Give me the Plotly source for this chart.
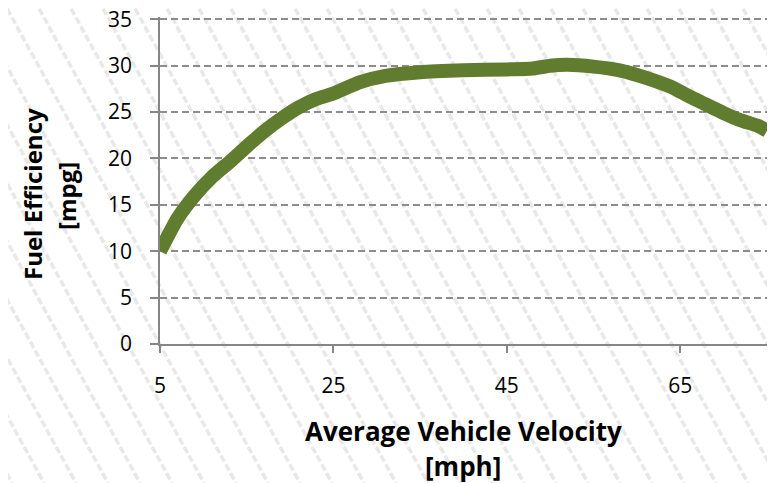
import plotly.graph_objects as go

velocity_mph = [5, 7, 9, 11, 13, 15, 17, 19, 21, 23, 25, 28, 31, 35, 40, 45, 48, 50,
                52, 55, 58, 60, 62, 64, 66, 68, 70, 72, 74, 75]
fuel_eff_mpg = [10.0, 13.5, 16.0, 18.0, 19.6, 21.3, 22.9, 24.3, 25.5, 26.4, 27.0, 28.2,
                28.9, 29.3, 29.5, 29.6, 29.7, 30.0, 30.1, 29.9, 29.5, 29.0, 28.4, 27.7,
                26.7, 25.8, 24.9, 24.1, 23.5, 23.0]
x_ticks = [5, 25, 45, 65]
y_ticks = [0, 5, 10, 15, 20, 25, 30, 35]

OFF = 8  # page body margin offset
W, H = 775 - OFF, 483 - OFF
L, R, T, B = 160 - OFF, 8, 17 - OFF, 139
pw, ph = W - L - R, H - T - B


def px(xw):
    return (xw - OFF - L) / pw


def py(yw):
    return (H - B - (yw - OFF)) / ph


fig = go.Figure()
fig.add_trace(go.Scatter(
    x=velocity_mph, y=fuel_eff_mpg, mode="lines",
    line=dict(color="#607C2E", width=14, shape="spline", smoothing=0.5),
    hoverinfo="skip", showlegend=False,
))

# diagonal hatch background
shapes = []
spacing = 32
slope = 0.55
x0 = -slope * 483 - 20
while x0 < 775 + 20:
    shapes.append(dict(
        type="line", xref="paper", yref="paper", layer="below",
        x0=px(x0), y0=py(0),
        x1=px(x0 + slope * 483), y1=py(483),
        line=dict(color="#E8E8E8", width=3.5, dash="7px,3px"),
    ))
    x0 += spacing

axis_color = "#868686"
fig.update_layout(
    width=W, height=H,
    margin=dict(l=L, r=R, t=T, b=B, autoexpand=False),
    paper_bgcolor="white", plot_bgcolor="rgba(0,0,0,0)",
    font=dict(family="Open Sans", color="black"),
    shapes=shapes,
    xaxis=dict(
        range=[5, 75], tickvals=x_ticks, ticks="outside", ticklen=7,
        tickcolor=axis_color, tickwidth=1.5,
        showline=True, linecolor=axis_color, linewidth=1.5,
        showgrid=False, zeroline=False, automargin=False,
        tickfont=dict(size=21, family="Open Sans", color="black"),
        ticklabelstandoff=15,
    ),
    yaxis=dict(
        range=[0, 35.25], tickvals=y_ticks, ticks="outside", ticklen=8,
        tickcolor=axis_color, tickwidth=1.5,
        showline=True, linecolor=axis_color, linewidth=1.5,
        showgrid=True, gridcolor="#8C8C8C", gridwidth=1.5, griddash="7px,4px",
        zeroline=False, automargin=False, ticklabeloverflow="allow",
        tickfont=dict(size=21, family="Open Sans", color="black"),
        ticklabelstandoff=14,
    ),
    annotations=[
        dict(text="<b>Average Vehicle Velocity</b>", xref="paper", yref="paper",
             x=px(463), y=py(431), xanchor="center", yanchor="middle",
             showarrow=False, font=dict(size=26, family="Open Sans", color="black")),
        dict(text="<b>[mph]</b>", xref="paper", yref="paper",
             x=px(463), y=py(466), xanchor="center", yanchor="middle",
             showarrow=False, font=dict(size=26, family="Open Sans", color="black")),
        dict(text="<b>Fuel Efficiency</b>", xref="paper", yref="paper",
             x=px(32), y=py(194), xanchor="center", yanchor="middle",
             textangle=-90,
             showarrow=False, font=dict(size=24, family="Open Sans", color="black")),
        dict(text="<b>[mpg]</b>", xref="paper", yref="paper",
             x=px(66), y=py(196), xanchor="center", yanchor="middle",
             textangle=-90,
             showarrow=False, font=dict(size=24, family="Open Sans", color="black")),
    ],
)

fig.write_html("out.html")
